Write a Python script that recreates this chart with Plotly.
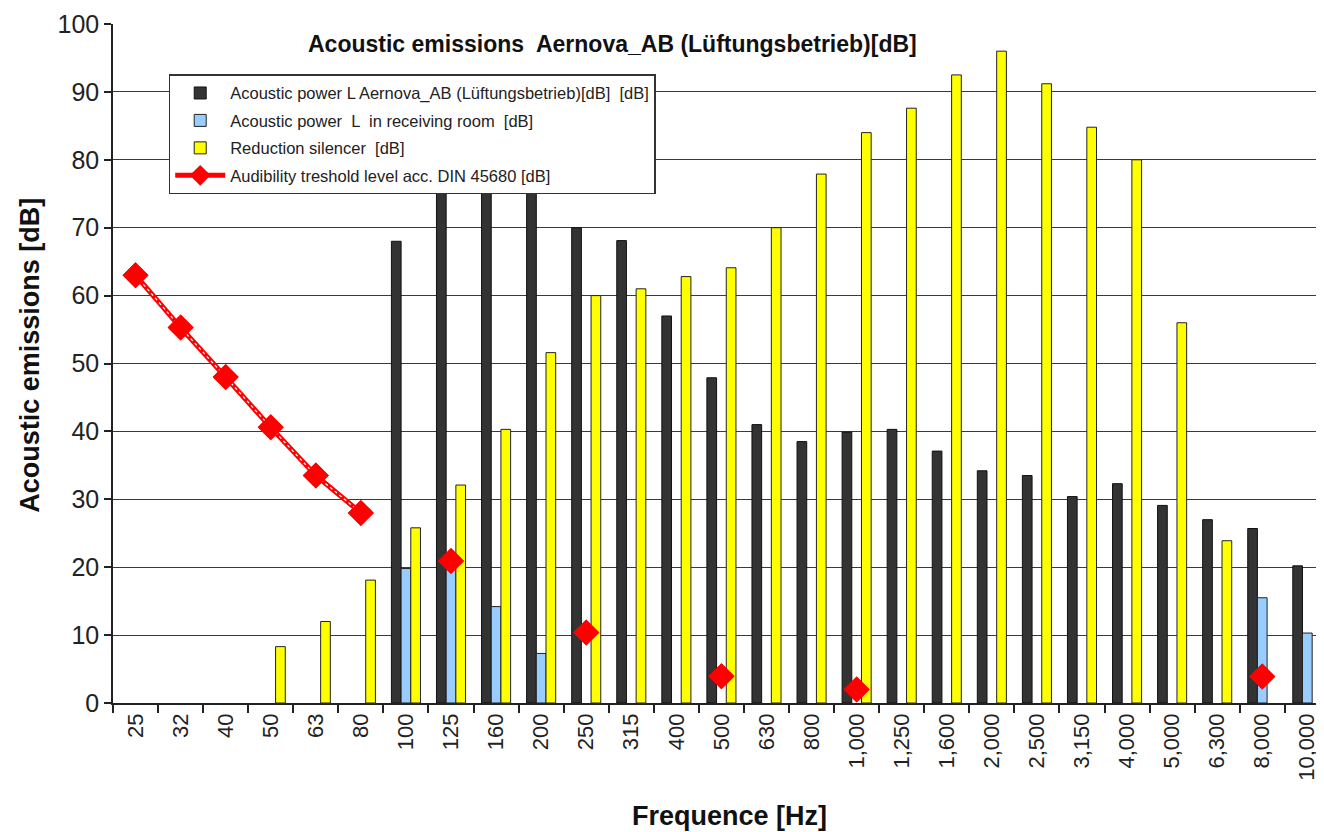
import plotly.graph_objects as go

categories = ["25", "32", "40", "50", "63", "80", "100", "125", "160", "200", "250", "315",
              "400", "500", "630", "800", "1,000", "1,250", "1,600", "2,000", "2,500",
              "3,150", "4,000", "5,000", "6,300", "8,000", "10,000"]

power_unit = [None, None, None, None, None, None, 68.0, 80.0, 82.0, 80.0, 70.0, 68.1,
              57.0, 47.9, 41.0, 38.5, 39.9, 40.3, 37.1, 34.2, 33.5,
              30.4, 32.3, 29.1, 27.0, 25.7, 20.2]

power_room = [None, None, None, None, None, None, 19.8, 20.5, 14.2, 7.3, None, None,
              None, None, None, None, None, None, None, None, None,
              None, None, None, None, 15.5, 10.3]

reduction = [None, None, None, 8.3, 12.0, 18.1, 25.8, 32.1, 40.3, 51.6, 60.0, 61.0,
             62.8, 64.1, 70.0, 77.9, 84.0, 87.6, 92.5, 96.0, 91.2,
             84.8, 80.0, 56.0, 23.9, None, None]

threshold = [63.0, 55.3, 48.0, 40.6, 33.5, 28.0, None, 20.9, None, None, 10.4, None,
             None, 3.95, None, None, 2.0, None, None, None, None,
             None, None, None, None, 3.9, None]

names = ["Acoustic power L Aernova_AB (Lüftungsbetrieb)[dB]  [dB]",
         "Acoustic power  L  in receiving room  [dB]",
         "Reduction silencer  [dB]",
         "Audibility treshold level acc. DIN 45680 [dB]"]

title_text = "Acoustic emissions  Aernova_AB (Lüftungsbetrieb)[dB]"
x_title = "Frequence [Hz]"
y_title = "Acoustic emissions [dB]"

FONT = "Liberation Sans, Arial, sans-serif"

fig = go.Figure()
fig.add_trace(go.Bar(x=categories, y=power_unit, name=names[0], legendgroup="a",
                     marker=dict(color="#333333", line=dict(color="#111111", width=1))))
fig.add_trace(go.Bar(x=categories, y=power_room, name=names[1], legendgroup="b",
                     marker=dict(color="#99CCFF", line=dict(color="#222222", width=1))))
fig.add_trace(go.Bar(x=categories, y=reduction, name=names[2], legendgroup="c",
                     marker=dict(color="#FFFF00", line=dict(color="#222222", width=1))))
fig.add_trace(go.Scatter(x=categories, y=threshold, name=names[3], legendgroup="d",
                         mode="lines+markers", connectgaps=False,
                         line=dict(color="#FF0000", width=5),
                         marker=dict(symbol="diamond", size=20, color="#FF0000")))
fig.add_trace(go.Scatter(x=categories, y=threshold, mode="lines", connectgaps=False,
                         showlegend=False, hoverinfo="skip",
                         line=dict(color="white", width=1.2, dash="dot")))
fig.add_trace(go.Scatter(x=categories, y=threshold, mode="markers", showlegend=False,
                         hoverinfo="skip",
                         marker=dict(symbol="diamond", size=20, color="#FF0000")))

# page body has an 8px margin: figure sized to fill the rest of the 1324x832 window
fig.update_layout(
    width=1316, height=824,
    paper_bgcolor="white", plot_bgcolor="white",
    margin=dict(l=105, r=0, t=16, b=128.5),
    barmode="group", bargap=0.355, bargroupgap=0,
    font=dict(family=FONT, color="#222222"),
    showlegend=True,
    legend=dict(x=0.046, y=0.926, xanchor="left", yanchor="top",
                bgcolor="white", bordercolor="#333333", borderwidth=1.5,
                font=dict(size=16.5, family=FONT, color="#222222"),
                traceorder="grouped", tracegroupgap=3, itemwidth=50),
    annotations=[
        dict(text="<b>" + title_text + "</b>", x=0.4125, y=(703.5 - 44) / 679.5, xref="paper",
             yref="paper", showarrow=False, xanchor="center", yanchor="middle",
             font=dict(size=23, family=FONT, color="#111111")),
        dict(text="<b>" + x_title + "</b>", x=0.5087, y=(703.5 - 816.7) / 679.5,
             xref="paper", yref="paper", showarrow=False, xanchor="center", yanchor="middle",
             font=dict(size=27, family=FONT, color="#111111")),
        dict(text="<b>" + y_title + "</b>", x=-0.0685, y=(703.5 - 356) / 679.5,
             xref="paper", yref="paper", showarrow=False, xanchor="center", yanchor="middle",
             textangle=-90, font=dict(size=27, family=FONT, color="#111111")),
    ],
)

fig.update_xaxes(type="category", range=[-0.5, 26.37], tickson="boundaries",
                 ticks="outside", ticklen=8, tickcolor="#222222", tickwidth=1.5,
                 showline=True, linecolor="#222222", linewidth=1.5,
                 tickangle=-90, tickfont=dict(size=22, family=FONT, color="#222222"),
                 showgrid=False, zeroline=False)
fig.update_yaxes(range=[0, 100], dtick=10, ticks="outside", ticklen=7,
                 tickcolor="#222222", tickwidth=1.5,
                 showline=True, linecolor="#222222", linewidth=1.5,
                 showgrid=True, gridcolor="#3a3a3a", gridwidth=1.2,
                 tickfont=dict(size=25, family=FONT, color="#222222"),
                 zeroline=False)

fig.write_html("out.html")
